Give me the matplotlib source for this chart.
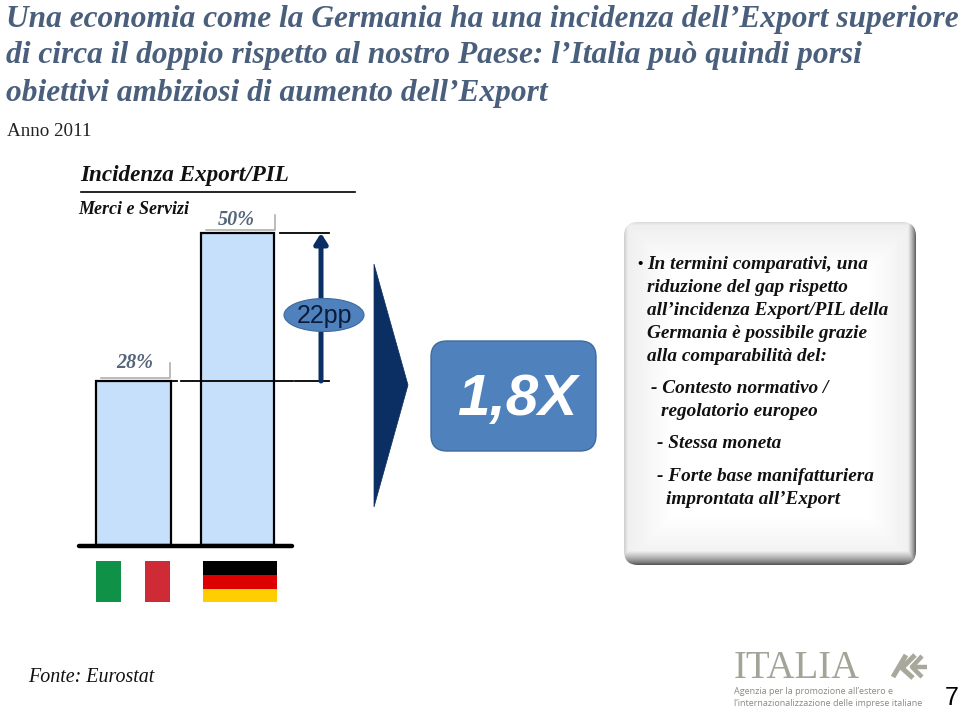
import numpy as np
import matplotlib
matplotlib.use("Agg")
import matplotlib.pyplot as plt
from matplotlib.patches import FancyBboxPatch, Polygon, Ellipse, Rectangle
from matplotlib.scale import FuncScale

# ---- data ----
countries = ["Italia", "Germania"]
values = [28, 50]
value_labels = ["28%", "50%"]
gap_label = "22pp"
ratio_label = "1,8X"
title_lines = ["Una economia come la Germania ha una incidenza dell’Export superiore",
               "di circa il doppio rispetto al nostro Paese: l’Italia può quindi porsi",
               "obiettivi ambiziosi di aumento dell’Export"]
panel_lines = [("In termini comparativi, una", 647, 269),
               ("riduzione del gap rispetto", 647, 292),
               ("all’incidenza Export/PIL della", 647, 315),
               ("Germania è possibile grazie", 647, 338),
               ("alla comparabilità del:", 647, 361),
               ("- Contesto normativo /", 651, 393),
               ("regolatorio europeo", 661, 416),
               ("- Stessa moneta", 657, 448),
               ("- Forte base manifatturiera", 657, 481),
               ("improntata all’Export", 666, 504)]

W, H = 960, 709
fig = plt.figure(figsize=(W / 100, H / 100), dpi=100, facecolor="white")
SERIF = "Liberation Serif"
SANS = "Liberation Sans"
TITLE_C = "#4A5F7C"

# chart axes: spans the plotted pixel band; y scale is piecewise as in the source
y_base, y_28, y_50 = 545, 381, 233
ax = fig.add_axes([0, 1 - y_base / H, 1, (y_base - y_50) / H], zorder=2)
ax.patch.set_alpha(0)
anch_v = [0, values[0], values[1]]
anch_p = [0, y_base - y_28, y_base - y_50]
fwd = lambda v: np.interp(v, anch_v, anch_p)
inv = lambda p: np.interp(p, anch_p, anch_v)
ax.set_yscale(FuncScale(ax, (fwd, inv)))
ax.set_xlim(0, W); ax.set_ylim(0, 50); ax.axis("off")
centers = [133.5, 237.5]; widths = [75, 73]
ax.bar(centers, values, width=widths, color="#C6DFFA", edgecolor="black", linewidth=1.6, clip_on=False)

# reference lines & arrow
ax.plot([171, 177], [values[0]] * 2, color="black", lw=1.3, clip_on=False)
ax.plot([181, 293], [values[0]] * 2, color="black", lw=1.3, clip_on=False)
ax.plot([295, 329], [values[0]] * 2, color="black", lw=1.3, clip_on=False)
ax.plot([280, 329], [values[1]] * 2, color="black", lw=1.3, clip_on=False)
ax.annotate("", xy=(321, values[1]), xytext=(321, values[0]), annotation_clip=False,
            arrowprops=dict(arrowstyle="-|>,head_width=0.38,head_length=0.6", color="#0B2E63",
                            lw=3.6, shrinkA=0, shrinkB=0))

# overlay in pixel coordinates (decorations and text), above the bars
ov = fig.add_axes([0, 0, 1, 1], zorder=3)
ov.patch.set_alpha(0)
ov.set_xlim(0, W); ov.set_ylim(H, 0); ov.axis("off")

# baseline
ov.plot([79, 292], [545.5, 545.5], color="black", lw=3.2, solid_capstyle="round", zorder=5)

# title
for t, y in zip(title_lines, [19, 55, 93]):
    ov.text(6, y, t, family=SERIF, weight="bold", style="italic", fontsize=22.55, color=TITLE_C, va="center", ha="left")
ov.text(7, 132, "Anno 2011", family=SERIF, fontsize=13.7, color="#222222", va="center")
ov.text(80, 175, "Incidenza Export/PIL", family=SERIF, weight="bold", style="italic", fontsize=16.65, color="#111111", va="center")
ov.plot([81, 355], [192, 192], color="black", lw=1.2)
ov.text(78, 210, "Merci e Servizi", family=SERIF, weight="bold", style="italic", fontsize=13, color="#111111", va="center")

# value labels with callout brackets
for lab, xt, yt, x0, x1, ytop, ybot in [(value_labels[0], 135, 363, 101, 170, 363, 378),
                                        (value_labels[1], 236, 220, 206, 275, 215, 230)]:
    ov.text(xt, yt, lab, family=SERIF, weight="bold", style="italic", fontsize=14.5, color="#55657A", ha="center", va="center")
    ov.plot([x0, x1, x1], [ybot, ybot, ytop], color="#A8A8A8", lw=1.1)

# 22pp bubble
ov.add_patch(Ellipse((324, 315), 80, 33, facecolor="#4F81BD", edgecolor="#3D6A9E", lw=0.8, zorder=6))
ov.text(324, 316, gap_label, family=SANS, fontsize=18, color="#0B1B3A", ha="center", va="center", zorder=7)

# chevron
ov.add_patch(Polygon([(374, 264), (408, 385), (374, 507)], closed=True, facecolor="#0B2E63", edgecolor="#0B2E63", lw=0.5))

# ratio box
ov.add_patch(FancyBboxPatch((443, 353), 141, 86, boxstyle="round,pad=12,rounding_size=16",
                            facecolor="#4F81BD", edgecolor="#3F6A9C", lw=1))
ov.text(517, 400, ratio_label, family=SANS, weight="bold", style="italic", fontsize=42, color="white", ha="center", va="center")

# text panel with soft bevel
px0, px1, py0, py1 = 624, 916, 222, 565
nx, ny = px1 - px0, py1 - py0
xx, yy = np.meshgrid(np.arange(nx) + .5, np.arange(ny) + .5)
# soft interior glow towards white, fading grey near the border
dist = np.minimum.reduce([xx, yy, nx - xx, ny - yy])
shade = 0.93 + 0.07 * np.clip(dist / 50, 0, 1)
shade = np.minimum(shade, 0.80 + 0.20 * np.clip(xx / 6, 0, 1))
shade = np.minimum(shade, 0.85 + 0.15 * np.clip(yy / 6, 0, 1))
shade = np.minimum(shade, 0.30 + 0.70 * np.clip((nx - xx) / 9, 0, 1) ** .7)
shade = np.minimum(shade, 0.28 + 0.72 * np.clip((ny - yy) / 16, 0, 1) ** .7)
im = ov.imshow(shade, cmap="gray", vmin=0, vmax=1, extent=(px0, px1, py1, py0), zorder=2, aspect="auto")
clip = FancyBboxPatch((px0 + 14, py0 + 14), nx - 28, ny - 28, boxstyle="round,pad=14,rounding_size=14",
                      facecolor="none", edgecolor="none", transform=ov.transData)
ov.add_patch(clip); im.set_clip_path(clip)
ov.set_xlim(0, W); ov.set_ylim(H, 0)
ov.text(637, 264, "•", family=SANS, fontsize=11, color="black", va="center", zorder=3)
for t, x, y in panel_lines:
    ov.text(x, y, t, family=SERIF, weight="bold", style="italic", fontsize=13.85, color="#111111", va="baseline", zorder=3)

# flags
ov.add_patch(Rectangle((96, 561), 25, 41, color="#0F9247", lw=0))
ov.add_patch(Rectangle((145, 561), 25, 41, color="#CF2B37", lw=0))
for c, y, h in [("#000000", 561, 13.5), ("#DD0000", 574.5, 14), ("#FFCE00", 588.5, 13.5)]:
    ov.add_patch(Rectangle((203, y), 74, h, color=c, lw=0))

# footer
ov.text(28, 678, "Fonte: Eurostat", family=SERIF, style="italic", fontsize=14.4, color="#111111", va="center")
ov.text(734, 668, "ITALIA", family=SERIF, fontsize=28, color="#A3A397", va="center")
ov.text(734, 691, "Agenzia per la promozione all’estero e", family="Open Sans", fontsize=6.5, color="#8A8A80", va="center")
ov.text(734, 703, "l’internazionalizzazione delle imprese italiane", family="Open Sans", fontsize=6.5, color="#8A8A80", va="center")
LOGO = "#A8A89C"
ov.plot([906, 893], [655, 677], color=LOGO, lw=3.6, solid_capstyle="butt")
ov.plot([915, 902, 913], [655, 668, 678], color=LOGO, lw=3.6, solid_capstyle="butt")
ov.plot([922, 912, 922], [656, 667, 677], color=LOGO, lw=3.2, solid_capstyle="butt")
ov.plot([914, 927], [666.5, 666.5], color=LOGO, lw=3.2, solid_capstyle="butt")
ov.text(952, 698, "7", family=SANS, fontsize=18, color="black", ha="center", va="center")

fig.savefig("out.png", dpi=100)
